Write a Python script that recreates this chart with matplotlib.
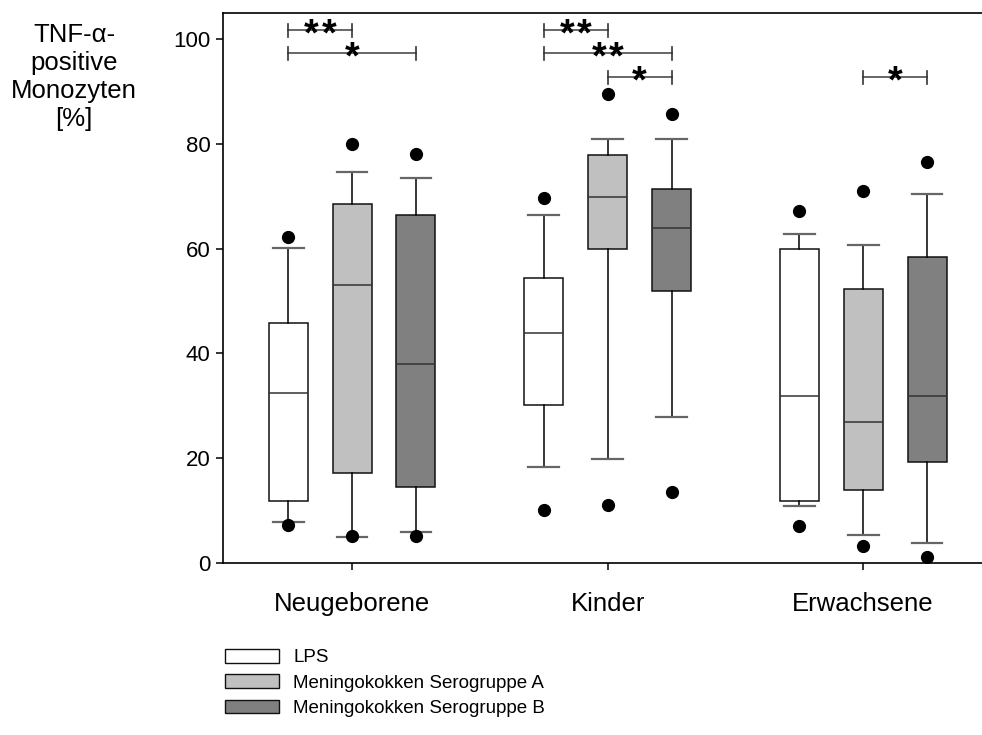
import numpy as np
import matplotlib
matplotlib.use('Agg')
import matplotlib.pyplot as plt
from matplotlib.patches import Patch

plt.rcParams['font.family'] = ['Liberation Sans', 'DejaVu Sans']

# Daten
gruppen = ['Neugeborene', 'Kinder', 'Erwachsene']
reize = ['LPS', 'Meningokokken Serogruppe A', 'Meningokokken Serogruppe B']
farben = ['#ffffff', '#c0c0c0', '#808080']

# je Gruppe: LPS, A, B
q1 = [[11.8, 17.1, 14.6], [30.2, 59.9, 52.0], [11.9, 13.9, 19.3]]
med = [[32.4, 53.0, 37.9], [43.9, 69.9, 63.9], [31.9, 26.9, 31.9]]
q3 = [[45.9, 68.5, 66.4], [54.4, 77.9, 71.4], [59.9, 52.4, 58.4]]
whislo = [[7.9, 5.0, 5.9], [18.4, 19.8, 27.9], [10.9, 5.3, 3.9]]
whishi = [[60.2, 74.6, 73.5], [66.4, 80.9, 81.0], [62.9, 60.7, 70.4]]
ausreisser_oben = [[62.2, 79.9, 78.0], [69.7, 89.6, 85.7], [67.2, 71.1, 76.6]]
ausreisser_unten = [[7.2, 5.1, 5.2], [10.1, 11.1, 13.6], [7.1, 3.3, 1.1]]

# Signifikanzen: (gruppe, von, bis, hoehe, anzahl sterne)
signif = [(0, 0, 1, 101.7, 2), (0, 0, 2, 97.3, 1),
          (1, 0, 1, 101.7, 2), (1, 0, 2, 97.3, 2), (1, 1, 2, 92.7, 1),
          (2, 1, 2, 92.7, 1)]

versatz = [-0.25, 0.0, 0.25]

fig = plt.figure(figsize=(9.82, 7.35), dpi=100)
ax = fig.add_axes([223/982, 172/735, 1 - 223/982, 550/735])

for j in range(3):
    stats = []
    pos = []
    for g in range(3):
        stats.append(dict(med=med[g][j], q1=q1[g][j], q3=q3[g][j],
                          whislo=whislo[g][j], whishi=whishi[g][j],
                          fliers=[ausreisser_oben[g][j], ausreisser_unten[g][j]]))
        pos.append(g + versatz[j])
    ax.bxp(stats, positions=pos, widths=0.153, capwidths=0.12, patch_artist=True,
           boxprops=dict(facecolor=farben[j], edgecolor='#111111', linewidth=1.1),
           medianprops=dict(color='#333333', linewidth=1.1),
           whiskerprops=dict(color='black', linewidth=1.1),
           capprops=dict(color='#666666', linewidth=1.6),
           flierprops=dict(marker='o', markerfacecolor='black', markeredgecolor='black',
                           markersize=8.5))

for g, a, b, h, n in signif:
    x1 = g + versatz[a]
    x2 = g + versatz[b]
    ax.plot([x1, x2], [h, h], color='#666666', lw=1.4)
    ax.plot([x1, x1], [h - 1.25, h + 1.25], color='#333333', lw=1.2)
    ax.plot([x2, x2], [h - 1.25, h + 1.25], color='#333333', lw=1.2)
    for k in range(n):
        ax.annotate('*', xy=((x1 + x2) / 2, h - 2.9), xytext=((k - (n - 1) / 2) * 12.7, 0),
                    textcoords='offset points', ha='center', va='baseline',
                    fontsize=27, fontweight='bold')

ax.set_xlim(-0.505, 2.465)
ax.set_ylim(0, 105)
ax.set_yticks([0, 20, 40, 60, 80, 100])
ax.set_xticks(range(3))
ax.set_xticklabels(gruppen, fontsize=18.5)
ax.tick_params(axis='y', labelsize=16, length=5, width=1.1, direction='out', pad=4)
ax.tick_params(axis='x', length=5, width=1.1, direction='out', pad=16)
ax.spines['right'].set_visible(False)
for s in ['left', 'top', 'bottom']:
    ax.spines[s].set_linewidth(1.2)

fig.text(74/982, 1 - 77/735, 'TNF-α-\npositive\nMonozyten\n[%]', ha='center',
         va='center', fontsize=18.5, linespacing=1.2)

handles = [Patch(facecolor=f, edgecolor='#111111', linewidth=1.0) for f in farben]
fig.legend(handles, reize, loc='upper left', bbox_to_anchor=(225/982, 1 - 649/735),
           frameon=False, fontsize=13.5, handlelength=2.9, handleheight=0.75,
           handletextpad=0.75, labelspacing=0.42, borderpad=0, borderaxespad=0)

fig.savefig('out.png', dpi=100)
